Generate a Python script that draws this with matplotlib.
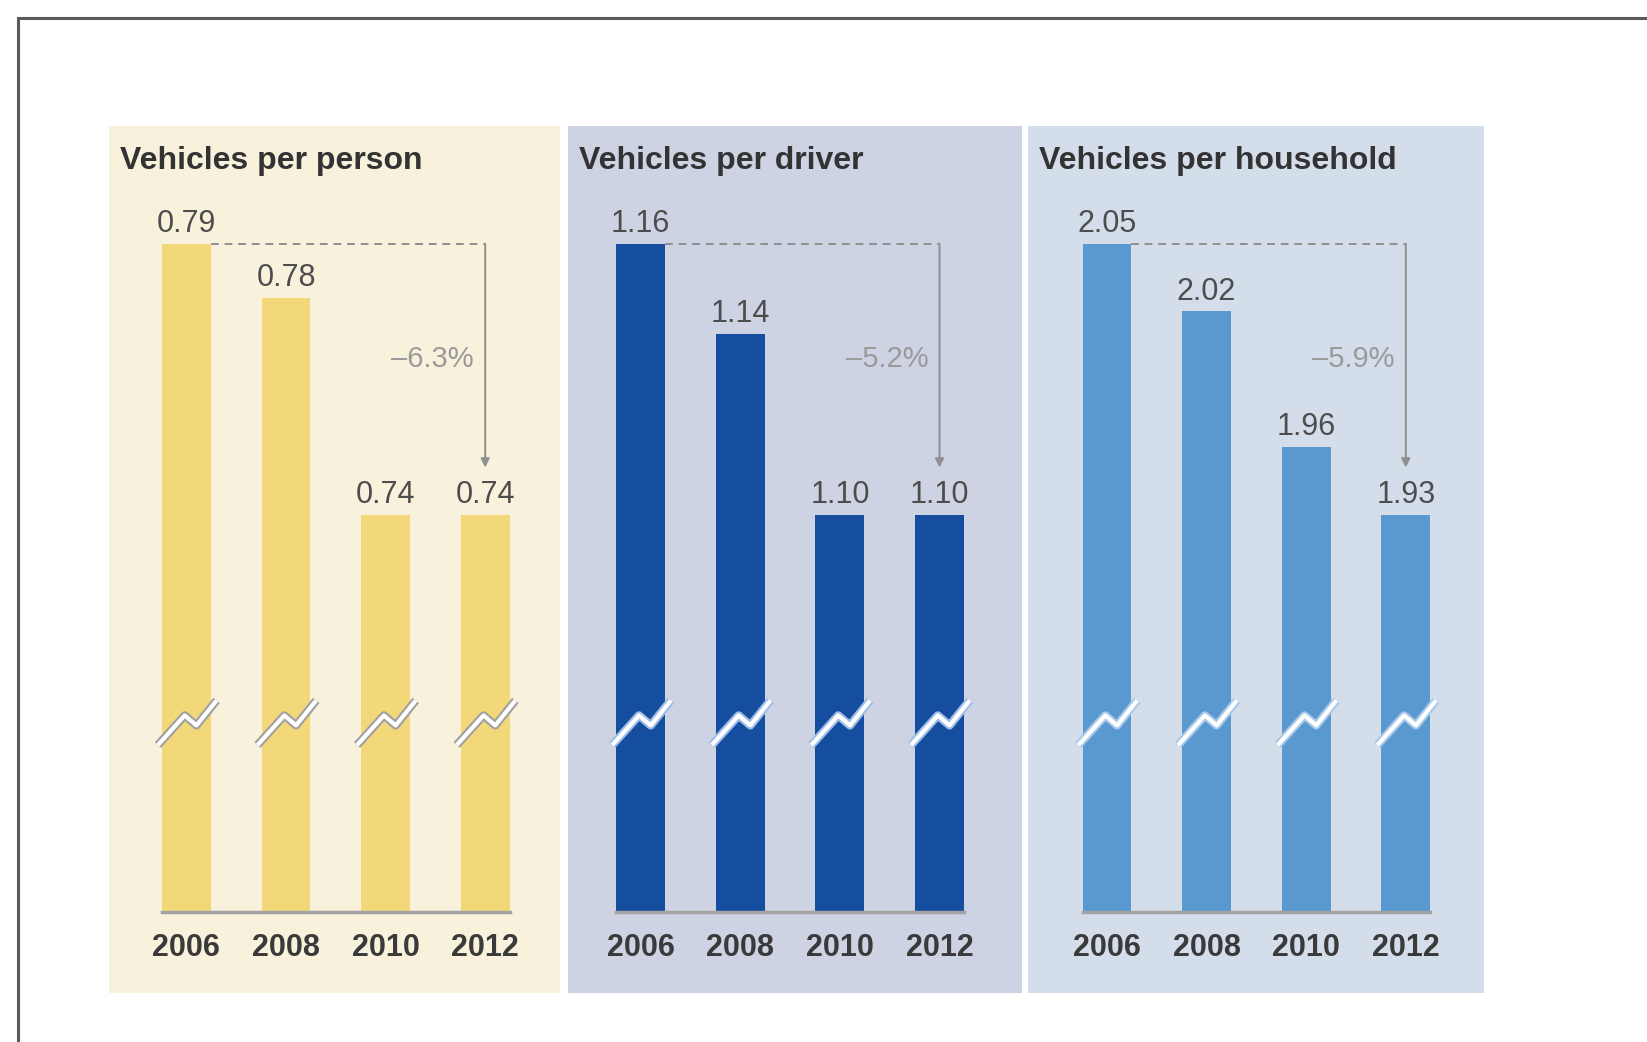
import numpy as np
import matplotlib.pyplot as plt
from matplotlib.patches import Rectangle
from matplotlib.lines import Line2D
import matplotlib.transforms as mtransforms
import matplotlib.patheffects as pe

plt.rcParams['font.family'] = ['Liberation Sans', 'DejaVu Sans']

years = ['2006', '2008', '2010', '2012']
per_person = [0.79, 0.78, 0.74, 0.74]
per_driver = [1.16, 1.14, 1.10, 1.10]
per_household = [2.05, 2.02, 1.96, 1.93]
titles = ['Vehicles per person', 'Vehicles per driver', 'Vehicles per household']

W, H = 1647, 1042
fig = plt.figure(figsize=(W / 100, H / 100), dpi=100)
fig.patch.set_facecolor('white')

# outer frame: only top and left edges are visible
fig.add_artist(Line2D([18 / W, 18 / W], [0, 1 - 18 / H], color='#5a5a5a', lw=2.2))
fig.add_artist(Line2D([18 / W, 1], [1 - 18 / H, 1 - 18 / H], color='#5a5a5a', lw=2.2))

# panel layout in pixels
panels = [
    dict(vals=per_person, left=109, right=560, c0=186.4,
         bg='#F8F1DC', bar='#F3D87A', halo='#a0a0a0'),
    dict(vals=per_driver, left=568, right=1022, c0=640.7,
         bg='#CED3E4', bar='#164E9F', halo='#9fbde6'),
    dict(vals=per_household, left=1028, right=1484, c0=1107.0,
         bg='#D4DEEB', bar='#5A98D0', halo='#a9c9ea'),
]
panel_top, panel_bot = 126, 993
base_px, top_px = 911.8, 243.7
step = 99.6            # pixels between bar centres
x = np.arange(len(years))

for p, title in zip(panels, titles):
    vals = p['vals']
    fig.patches.append(Rectangle((p['left'] / W, 1 - panel_bot / H),
                                 (p['right'] - p['left']) / W,
                                 (panel_bot - panel_top) / H,
                                 transform=fig.transFigure, facecolor=p['bg'],
                                 edgecolor='none', zorder=-5))
    fig.text((p['left'] + 11) / W, 1 - 169 / H, title, fontsize=23,
             fontweight='bold', color='#333333', va='baseline', ha='left')

    ax_left = p['c0'] - 0.6 * step
    ax = fig.add_axes([ax_left / W, 1 - base_px / H,
                       4.2 * step / W, (base_px - top_px) / H])
    ax.set_facecolor('none')
    for s in ax.spines.values():
        s.set_visible(False)

    # broken axis: first-to-last drop always spans the same height
    drop = vals[0] - vals[-1]
    ylo = vals[0] - drop * 2.465
    ax.set_ylim(ylo, vals[0])
    ax.set_xlim(-0.6, 3.6)

    ax.bar(x, vals, width=0.49, color=p['bar'], zorder=2)
    ax.plot([-0.245, 3.245], [ylo, ylo], color='#a3a3a3', lw=2.5,
            clip_on=False, zorder=3)

    ax.set_yticks([])
    ax.set_xticks(x)
    ax.set_xticklabels(years, fontsize=22, fontweight='bold', color='#3a3a3a')
    ax.tick_params(axis='x', length=0, pad=15)

    for i, v in enumerate(vals):
        ax.annotate(f'{v:.2f}', xy=(i, v), xytext=(0, 8.6),
                    textcoords='offset points', ha='center', va='baseline',
                    fontsize=22, color='#4d4d4d')

    # break marks across each bar
    blend = mtransforms.blended_transform_factory(ax.transData, ax.transAxes)
    bx = np.array([-0.286, -0.017, 0.101, 0.303])
    by = 0.283 + np.array([-0.0334, 0.0109, -0.004, 0.0334])
    for i in x:
        ax.plot(i + bx, by, transform=blend, color='white', lw=3,
                solid_capstyle='butt', clip_on=False, zorder=4,
                path_effects=[pe.Stroke(linewidth=6, foreground=p['halo']),
                              pe.Normal()])

    # change from first to last year
    ax.plot([0.245, 3], [vals[0], vals[0]], ls=(0, (4, 3)), color='#8f8f8f',
            lw=1.4, clip_on=False, zorder=3)
    ax.annotate('', xy=(3, vals[-1]), xytext=(3, vals[0]),
                arrowprops=dict(arrowstyle='-|>', color='#8f8f8f', lw=1.4,
                                shrinkA=0, shrinkB=34, mutation_scale=13))
    pct = (vals[-1] - vals[0]) / vals[0] * 100
    ax.annotate(f'\u2013{abs(pct):.1f}%', xy=(3, 0.8155), xycoords=blend,
                xytext=(-8, 0), textcoords='offset points', ha='right',
                va='baseline', fontsize=21, color='#9a9a9a')

fig.savefig('out.png', dpi=100, facecolor='white')
